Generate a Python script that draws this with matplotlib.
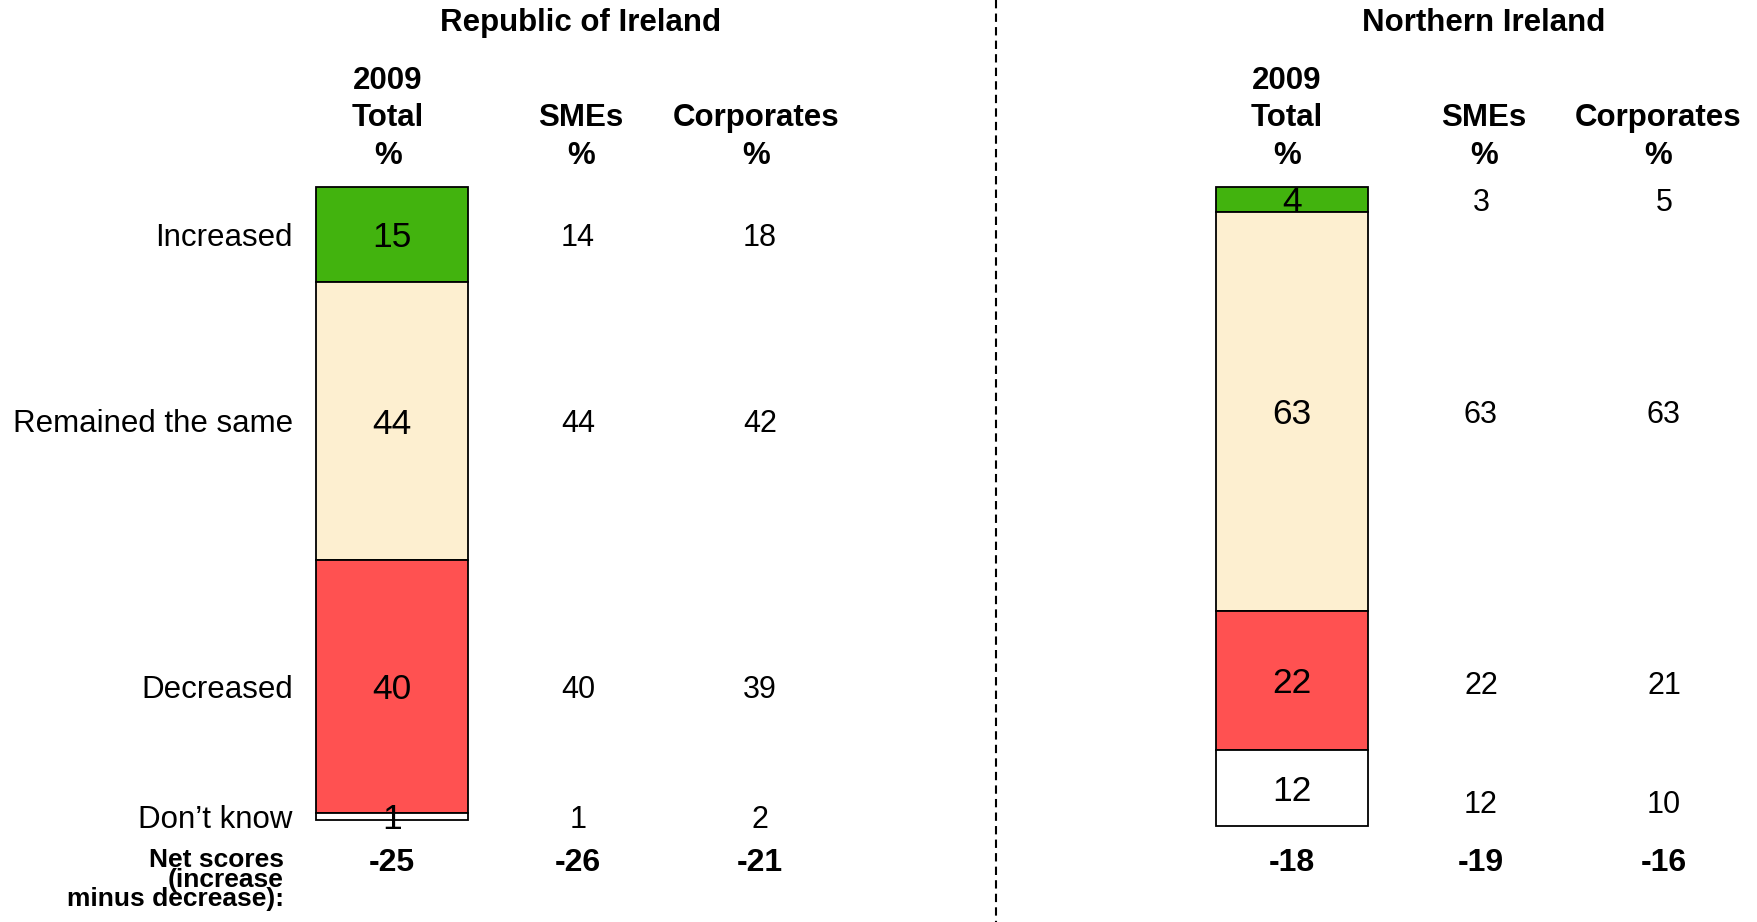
"""
Change in lending levels: Republic of Ireland vs Northern Ireland
Stacked 2009 total bar + SME / Corporate columns and net scores.
"""
import numpy as np
import matplotlib
matplotlib.use("Agg")
import matplotlib.pyplot as plt

plt.rcParams["font.family"] = ["Liberation Sans", "DejaVu Sans"]

# ── Data ───────────────────────────────────
categories = ["Increased", "Remained the same", "Decreased", "Don\u2019t know"]

roi_total = [15, 44, 40, 1]
roi_smes = [14, 44, 40, 1]
roi_corps = [18, 42, 39, 2]
roi_net = [-25, -26, -21]

ni_total = [4, 63, 22, 12]
ni_smes = [3, 63, 22, 12]
ni_corps = [5, 63, 21, 10]
ni_net = [-18, -19, -16]

col_headers = ["2009\nTotal\n%", "SMEs\n%", "Corporates\n%"]

# ── Theme ──────────────────────────────────
COLORS = ["#42B30E", "#FDEFD0", "#FF5151", "#FFFFFF"]
INK = "#000000"

W, H = 1758, 922
fig = plt.figure(figsize=(W / 100, H / 100), dpi=100, facecolor="white")
ax = fig.add_axes([0, 0, 1, 1])
ax.set_xlim(0, W)
# y axis in percentage points, 0 at the top of the bars
ax.set_ylim(116.2, -29.6)
ax.axis("off")

BAR_W = 152
TXT_DY = 0.5   # nudge for va="center" text
panels = [
    dict(title="Republic of Ireland", title_x=581,
         hdr_x=[388, 581, 756], val_x=[392, 578, 760],
         total=roi_total, smes=roi_smes, corps=roi_corps, net=roi_net,
         side_dy=[0, 0, 0, 0], labels=True),
    dict(title="Northern Ireland", title_x=1484,
         hdr_x=[1287, 1484, 1658], val_x=[1292, 1481, 1664],
         total=ni_total, smes=ni_smes, corps=ni_corps, net=ni_net,
         side_dy=[0, 0, 0.4, 2.2], labels=False),
]

for p in panels:
    total = np.array(p["total"])
    bottoms = np.concatenate([[0], np.cumsum(total)[:-1]])
    mids = bottoms + total / 2 + TXT_DY
    ax.bar([p["val_x"][0]] * len(total), total, bottom=bottoms, width=BAR_W,
           color=COLORS, edgecolor=INK, linewidth=1.3, zorder=2)

    # title + column headers
    ax.text(p["title_x"], -25.9, p["title"], ha="center", va="center",
            fontsize=22.5, fontweight="bold", color=INK)
    for hx, hdr in zip(p["hdr_x"], col_headers):
        ax.text(hx, -3.7, hdr, ha="center", va="baseline", fontsize=22.5,
                fontweight="bold", color=INK, linespacing=1.33)

    # values
    for i in range(len(categories)):
        ax.text(p["val_x"][0], mids[i], str(total[i]), ha="center",
                va="center", fontsize=25.5, color=INK, zorder=3)
        ys = mids[i] + p["side_dy"][i]
        ax.text(p["val_x"][1], ys, str(p["smes"][i]), ha="center",
                va="center", fontsize=22, color=INK)
        ax.text(p["val_x"][2], ys, str(p["corps"][i]), ha="center",
                va="center", fontsize=22, color=INK)
        if p["labels"]:
            ax.text(293, mids[i], categories[i], ha="right", va="center",
                    fontsize=22.5, color=INK)

    # net scores
    for nx, n in zip(p["val_x"], p["net"]):
        ax.text(nx, 106.8, f"{n}", ha="center", va="center",
                fontsize=23, fontweight="bold", color=INK)

# net scores row label (tightly stacked lines)
for y, line in zip([106.4, 109.6, 112.5],
                   ["Net scores", "(increase", "minus decrease):"]):
    ax.text(284, y, line, ha="right", va="center", fontsize=19,
            fontweight="bold", color=INK)

# divider between panels
ax.plot([996, 996], [-29.6, 116.2], color=INK, linewidth=1.5,
        linestyle=(0, (4, 2.5)))

fig.savefig("out.png", dpi=100, facecolor="white")
